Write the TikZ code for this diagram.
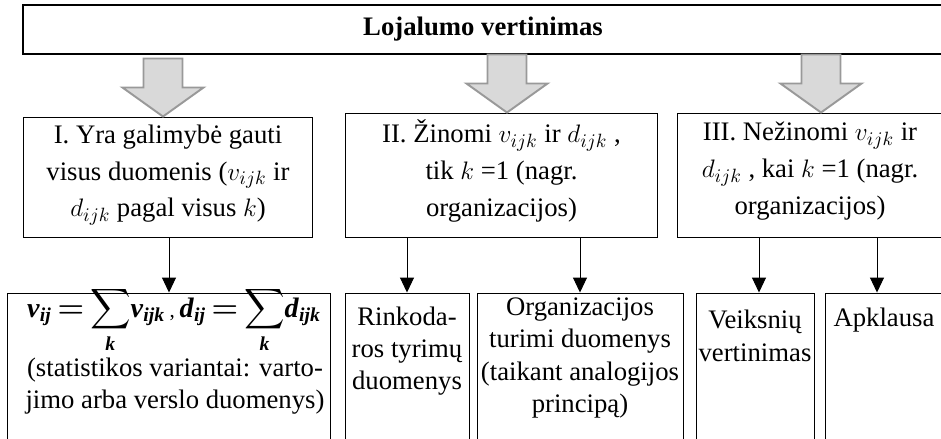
\documentclass[tikz,border=0pt]{standalone}
\usepackage{amsmath,amssymb}
\usepackage{fontspec}
\setmainfont{Liberation Serif}
\usetikzlibrary{arrows.meta,calc}
\newcommand{\bitx}[1]{\textbf{\textit{#1}}}

\begin{document}
\begin{tikzpicture}[x=0.02cm, y=-0.02cm, line width=0.55pt, >={Triangle[length=0.3cm,width=0.28cm]},
  box/.style={draw, rectangle, inner sep=0pt},
  txt/.style={align=center, inner sep=0pt, font=\fontsize{15.2}{21}\selectfont},
  lowtxt/.style={align=center, inner sep=0pt, font=\fontsize{15.2}{18.4}\selectfont},
  bigarrow/.style={draw=gray!80, fill=gray!30, line width=1.1pt}]
  \useasboundingbox (0,0) rectangle (941,439);
  \clip (0,0) rectangle (941,439);

  % upper level
  \node[box, line width=0.75pt, minimum width=18.4cm, minimum height=0.98cm, font=\fontsize{15.2}{21}\selectfont\bfseries] (top) at (483,29.5) {Lojalumo vertinimas};
  \node[box, minimum width=5.8cm, minimum height=2.4cm] (bI) at (168,177) {};
  \node[box, minimum width=6.26cm, minimum height=2.48cm] (bII) at (501.5,175) {};
  \node[box, minimum width=5.32cm, minimum height=2.48cm] (bIII) at (810,175) {};

  \node[txt] (tI) at (168,175) {I. Yra galimybė gauti\\visus duomenis ($v_{ijk}$ ir\\$d_{ijk}$ pagal visus $k$)};
  \node[txt] (tII) at (501.5,171) {II. Žinomi $v_{ijk}$ ir $d_{ijk}$ ,\\tik $k$ =1 (nagr.\\organizacijos)};
  \node[txt] (tIII) at (810,171) {III. Nežinomi $v_{ijk}$ ir\\$d_{ijk}$ , kai $k$ =1 (nagr.\\organizacijos)};

  \foreach \b/\dx in {bI/-5, bII/5.5, bIII/11}
    \draw[bigarrow] ($(\b.north)+(\dx,0)$) -- ++(-40.5,-29) -- ++(21,0) -- ++(0,-29)
      -- ++(39,0) -- ++(0,29) -- ++(21,0) -- cycle;

  % lower level
  \node[box, minimum width=6.48cm, minimum height=3.2cm] (sum) at (169,373) {};
  \node[box, minimum width=2.48cm, minimum height=3.2cm] (rink) at (407,373) {};
  \node[box, minimum width=4.12cm, minimum height=3.2cm] (org) at (580,373) {};
  \node[box, minimum width=2.36cm, minimum height=3.2cm] (veik) at (755,373) {};
  \node[box, minimum width=2.36cm, minimum height=3.2cm] (apk) at (884,373) {};

  \node[inner sep=0pt, font=\fontsize{16}{19}\selectfont\boldmath] (f) at (174,320)
    {\thickmuskip=3mu\thinmuskip=1mu
     $\displaystyle \bitx{v}_{\bitx{ij}}=\sum_{\bitx{k}}\!\bitx{v}_{\bitx{ijk}}$%
     \,{\fontsize{12}{14}\selectfont ,}\,%
     $\displaystyle \bitx{d}_{\bitx{ij}}=\sum_{\bitx{k}}\!\bitx{d}_{\bitx{ijk}}$};
  \node[lowtxt] (tsum) at (175,386) {(statistikos variantai: varto-\\jimo arba verslo duomenys)};
  \node[lowtxt] (trink) at (407,351) {Rinkoda-\\ros tyrimų\\duomenys};
  \node[lowtxt] (torg) at (580,358) {Organizacijos\\turimi duomenys\\(taikant analogijos\\principą)};
  \node[lowtxt] (tveik) at (755,336) {Veiksnių\\vertinimas};
  \node[lowtxt] (tapk) at (884,320) {Apklausa};

  \draw[->] (sum.north |- bI.south) -- (sum.north);
  \draw[->] (rink.north |- bII.south) -- (rink.north);
  \draw[->] (org.north |- bII.south) -- (org.north);
  \draw[->] ($(veik.north |- bIII.south)+(4,0)$) -- ($(veik.north)+(4,0)$);
  \draw[->] ($(apk.north |- bIII.south)+(-7,0)$) -- ($(apk.north)+(-7,0)$);
\end{tikzpicture}
\end{document}
